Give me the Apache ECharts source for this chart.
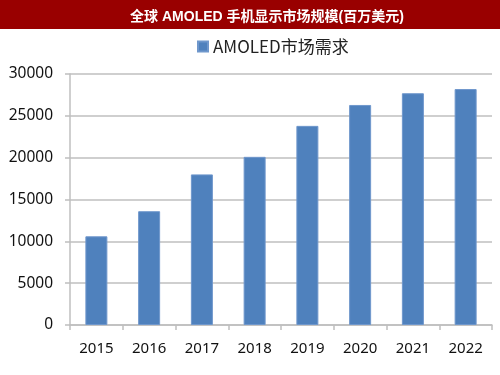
<!DOCTYPE html>
<html><head><meta charset="utf-8">
<script src="https://cdn.jsdelivr.net/npm/echarts@6/dist/echarts.min.js"></script>
<style>html,body{margin:0;padding:0;background:#fff}#c{width:500px;height:375px}</style>
</head><body><div id="c"></div>
<script>
const titleText = '全球 AMOLED 手机显示市场规模(百万美元)';
const seriesName = 'AMOLED市场需求';
const years = ['2015','2016','2017','2018','2019','2020','2021','2022'];
const values = [10600, 13600, 18000, 20100, 23800, 26300, 27700, 28200];

const chart = echarts.init(document.getElementById('c'), null, {renderer:'canvas'});
chart.setOption({
  animation: false,
  backgroundColor: '#fff',
  graphic: [{type:'rect', left:0, top:0, shape:{width:500, height:29}, style:{fill:'#990000'}, z:-1}],
  title: {text: titleText, left: 262, textAlign: 'center', top: 5,
    textStyle:{color:'#fff', fontSize:14, fontWeight:'bold', fontFamily:'"Liberation Sans", "Noto Sans CJK SC", sans-serif'}},
  legend: {top: 33, left: 192, itemWidth: 10, itemHeight: 10, icon: 'rect', itemGap: 5,
    textStyle:{fontSize:17, color:'#222', fontFamily:'"Noto Sans CJK SC", sans-serif'}},
  grid: {left: 70, right: 8, top: 74, bottom: 50},
  xAxis: {type:'category', data: years,
    axisLine:{lineStyle:{color:'#bfbfbf', width:1.5}},
    axisTick:{show:true, lineStyle:{color:'#bfbfbf', width:1.5}, length:5},
    axisLabel:{color:'#111', fontSize:15, margin:16, fontFamily:'"Noto Sans", sans-serif'}},
  yAxis: {type:'value', min:0, max:30000, interval:5000,
    axisLine:{show:true, lineStyle:{color:'#bfbfbf', width:1.5}},
    axisTick:{show:true, lineStyle:{color:'#bfbfbf', width:1.5}, length:5},
    splitLine:{lineStyle:{color:'#bfbfbf', width:1.5}},
    axisLabel:{color:'#111', fontSize:15.5, margin:17, fontFamily:'"Noto Sans", sans-serif',
      formatter: v => String(v)}},
  series: [{name: seriesName, type:'bar', data: values, barWidth: 22,
    itemStyle:{color:'#4f81bd', borderColor:'#6f97cc', borderWidth:1}}]
});
</script></body></html>
